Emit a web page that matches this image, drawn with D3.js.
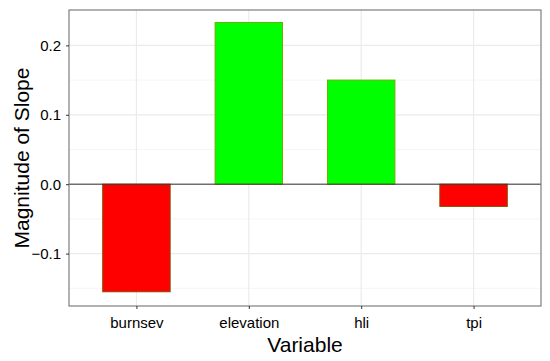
<!DOCTYPE html>
<html>
<head>
<meta charset="utf-8">
<script src="https://cdn.jsdelivr.net/npm/d3@7"></script>
<style>
body { margin: 0; background: #fff; }
text { font-family: "Liberation Sans", Arial, sans-serif; }
</style>
</head>
<body>
<script>
// data
var variables = ["burnsev", "elevation", "hli", "tpi"];
var slopes = [-0.155, 0.233, 0.150, -0.032];
var majorTicks = [-0.1, 0.0, 0.1, 0.2];
var minorTicks = [-0.15, -0.05, 0.05, 0.15];

var width = 550, height = 361;
var margin = { top: 10, right: 9, bottom: 55, left: 69 };
var pw = width - margin.left - margin.right;
var ph = height - margin.top - margin.bottom;

var svg = d3.select("body").append("svg")
    .attr("width", width)
    .attr("height", height);

var g = svg.append("g")
    .attr("transform", "translate(" + margin.left + "," + margin.top + ")");

// ggplot style discrete scale: 0.6 expansion each side
var xScale = d3.scalePoint()
    .domain(variables)
    .range([pw * 0.6 / 4.2, pw - pw * 0.6 / 4.2]);
var step = pw / 4.2;

var yScale = d3.scaleLinear()
    .domain([-0.1755, 0.251])
    .range([ph, 0]);

// grid
g.selectAll(".minor").data(minorTicks).enter().append("line")
    .attr("x1", 0).attr("x2", pw)
    .attr("y1", d => yScale(d)).attr("y2", d => yScale(d))
    .attr("stroke", "#f2f2f2").attr("stroke-width", 0.8);
g.selectAll(".major").data(majorTicks).enter().append("line")
    .attr("x1", 0).attr("x2", pw)
    .attr("y1", d => yScale(d)).attr("y2", d => yScale(d))
    .attr("stroke", "#ebebeb").attr("stroke-width", 1.2);
g.selectAll(".vgrid").data(variables).enter().append("line")
    .attr("x1", d => xScale(d)).attr("x2", d => xScale(d))
    .attr("y1", 0).attr("y2", ph)
    .attr("stroke", "#ebebeb").attr("stroke-width", 1.2);

// bars
var bw = step * 0.6;
g.selectAll(".bar").data(variables).enter().append("rect")
    .attr("x", d => xScale(d) - bw / 2)
    .attr("width", bw)
    .attr("y", (d, i) => yScale(Math.max(0, slopes[i])))
    .attr("height", (d, i) => Math.abs(yScale(slopes[i]) - yScale(0)))
    .attr("fill", (d, i) => slopes[i] < 0 ? "#ff0000" : "#00ff00")
    .attr("stroke", (d, i) => slopes[i] < 0 ? "#8a4a00" : "#6ab000")
    .attr("stroke-width", 1);

// zero line
g.append("line")
    .attr("x1", 0).attr("x2", pw)
    .attr("y1", yScale(0)).attr("y2", yScale(0))
    .attr("stroke", "#333").attr("stroke-width", 1);

// panel border
g.append("rect")
    .attr("width", pw).attr("height", ph)
    .attr("fill", "none").attr("stroke", "#7f7f7f").attr("stroke-width", 1.2);

// axes
var yAxis = d3.axisLeft(yScale).tickValues(majorTicks).tickSize(3).tickPadding(5)
    .tickFormat(d3.format(".1f"));
var ya = g.append("g").call(yAxis);
ya.select(".domain").remove();
ya.selectAll("line").attr("stroke", "#333");
ya.selectAll("text").attr("font-size", 15).attr("fill", "#000")
    .text(d => d3.format(".1f")(d).replace("-", "\u2212"));

var xAxis = d3.axisBottom(xScale).tickSize(3).tickPadding(8);
var xa = g.append("g").attr("transform", "translate(0," + ph + ")").call(xAxis);
xa.select(".domain").remove();
xa.selectAll("line").attr("stroke", "#333");
xa.selectAll("text").attr("font-size", 15).attr("fill", "#000");

// titles
svg.append("text")
    .attr("x", margin.left + pw / 2).attr("y", 352)
    .attr("text-anchor", "middle").attr("font-size", 21)
    .text("Variable");
svg.append("text")
    .attr("transform", "translate(29," + (margin.top + ph / 2) + ") rotate(-90)")
    .attr("text-anchor", "middle").attr("font-size", 21)
    .text("Magnitude of Slope");
</script>
</body>
</html>
